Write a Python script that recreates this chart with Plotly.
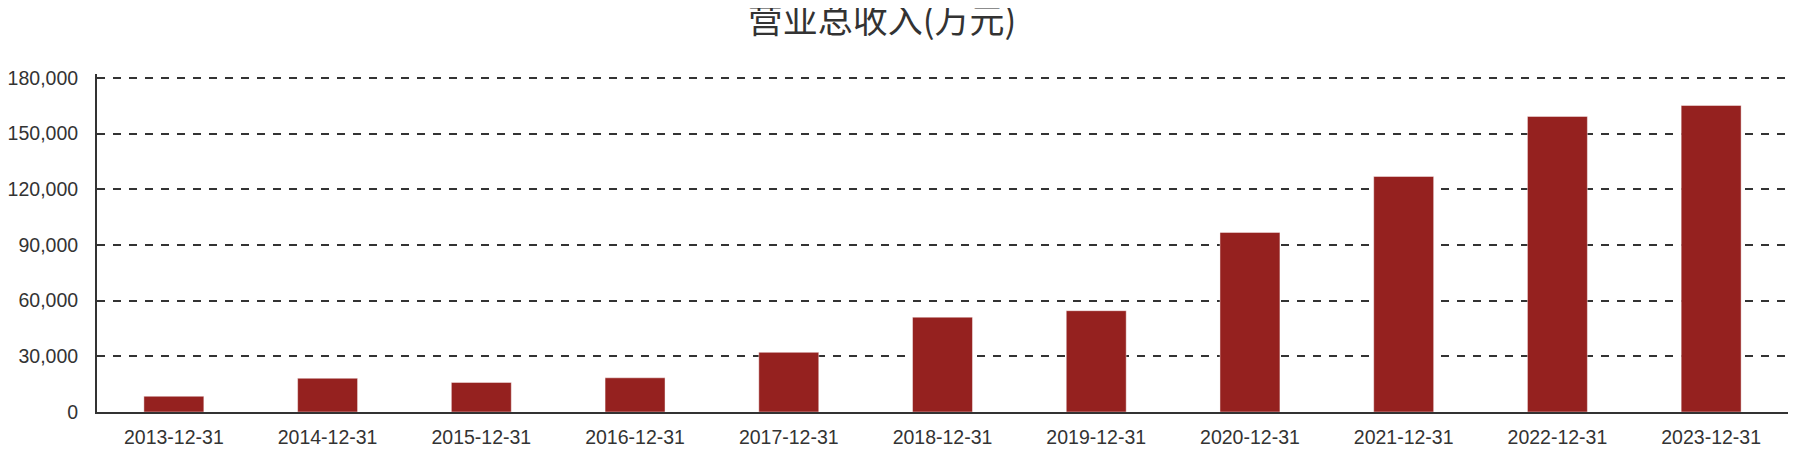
import plotly.graph_objects as go

categories = ["2013-12-31", "2014-12-31", "2015-12-31", "2016-12-31", "2017-12-31",
              "2018-12-31", "2019-12-31", "2020-12-31", "2021-12-31", "2022-12-31", "2023-12-31"]
revenue = [8470, 18180, 15950, 18430, 32140, 51100, 54600, 96800, 126950, 159300, 165200]
y_ticks = [0, 30000, 60000, 90000, 120000, 150000, 180000]
title_text = "营业总收入(万元)"

BAR_COLOR = "#95211f"
TEXT_COLOR = "#333333"
FONT = "Liberation Sans, Arial, Noto Sans CJK SC, sans-serif"

# page body has an 8px margin; figure size compensates so the screenshot matches
W, H = 1788, 450

fig = go.Figure(
    go.Bar(
        x=categories,
        y=revenue,
        marker=dict(color=BAR_COLOR, line=dict(color="rgba(255,255,255,0.45)", width=1)),
        width=0.39,
    )
)

fig.update_layout(
    width=W,
    height=H,
    margin=dict(l=89, r=8, t=66, b=46, pad=0, autoexpand=False),
    paper_bgcolor="white",
    plot_bgcolor="white",
    showlegend=False,
    font=dict(family=FONT, color=TEXT_COLOR, size=19.5),
    title=dict(
        text=title_text,
        font=dict(family="Noto Sans CJK SC, sans-serif", size=35, color=TEXT_COLOR),
        x=874 / W,
        xanchor="center",
        xref="container",
        y=1.0,
        yanchor="top",
        yref="container",
        pad=dict(t=0),
        automargin=False,
    ),
)

fig.update_xaxes(
    type="category",
    automargin=False,
    showline=True,
    linecolor=TEXT_COLOR,
    linewidth=2,
    showgrid=False,
    ticks="",
    tickfont=dict(size=19.5, color=TEXT_COLOR),
    ticklabelstandoff=7,
)

fig.update_yaxes(
    range=[0, 182156],
    automargin=False,
    tickvals=y_ticks,
    tickformat=",",
    showline=True,
    linecolor=TEXT_COLOR,
    linewidth=2,
    zeroline=False,
    showgrid=True,
    gridcolor=TEXT_COLOR,
    gridwidth=2,
    griddash="8px,8px",
    ticks="",
    tickfont=dict(size=19.5, color=TEXT_COLOR),
    ticklabelstandoff=13,
)

fig.write_html("out.html")
